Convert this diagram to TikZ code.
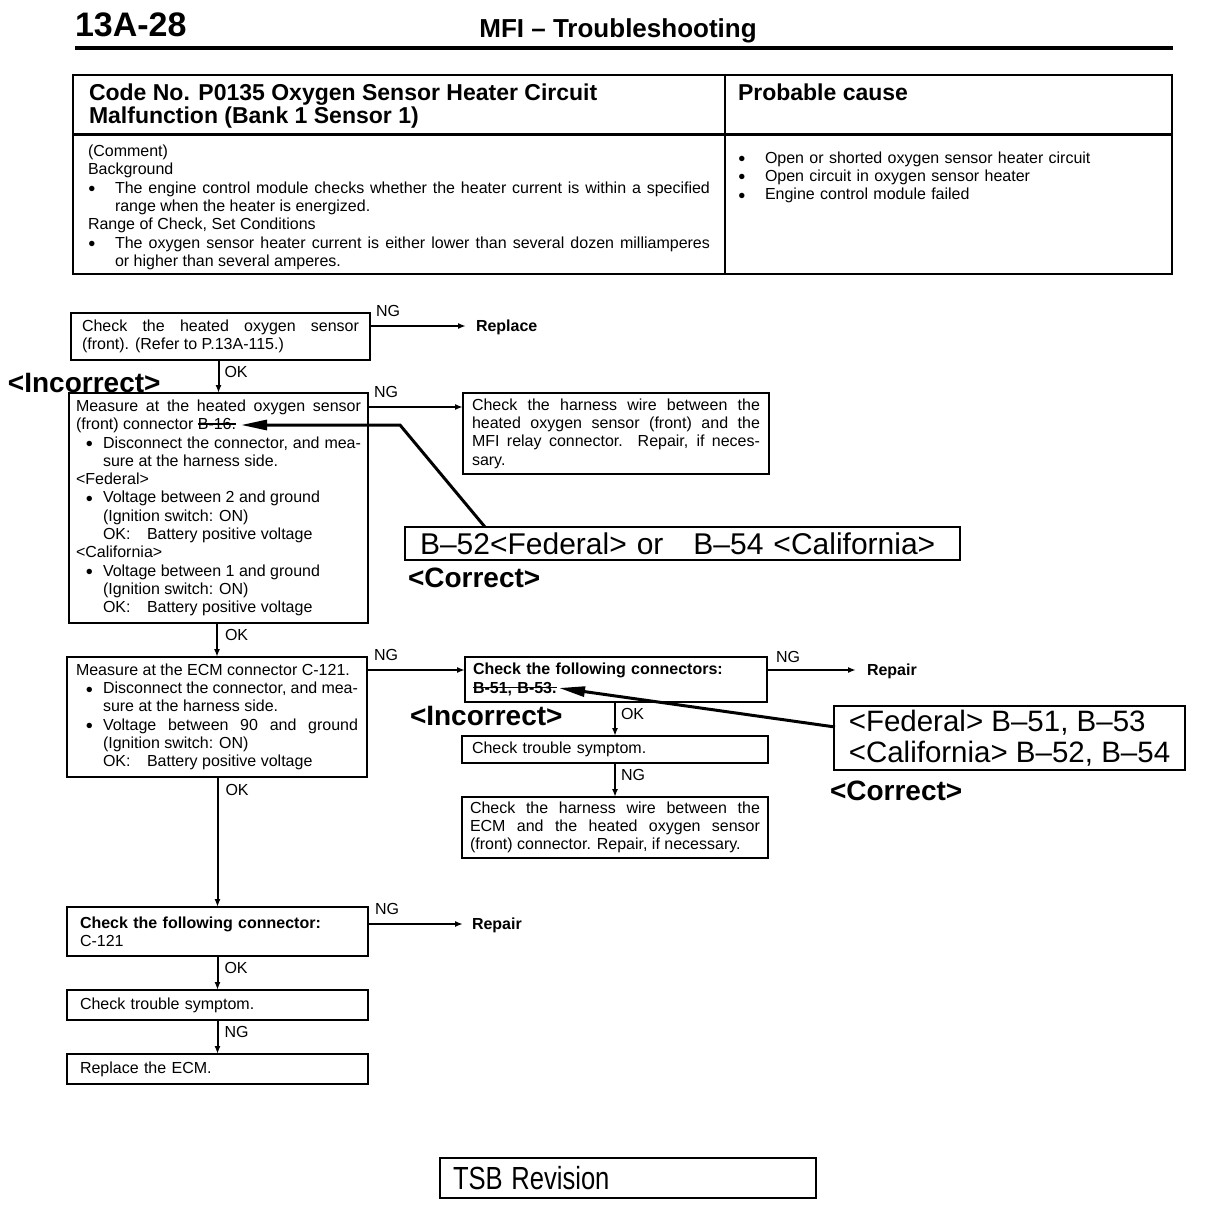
\documentclass[tikz,border=0pt]{standalone}
\usepackage{fontspec}
\setmainfont{Liberation Sans}
\usepackage{graphicx}
\usetikzlibrary{arrows.meta,calc}
\newsavebox\strkbox
\newcommand{\strk}[1]{\leavevmode\sbox\strkbox{#1}\rlap{\rule[0.32em]{\wd\strkbox}{1.3pt}}\usebox\strkbox}
\newcommand{\sm}{\fontsize{16}{18.3}\selectfont\parindent=0pt\parskip=0pt\tolerance=10000\hyphenpenalty=10000}
\newcommand{\bigdot}{\raisebox{0.6pt}{\fontsize{12.5}{12.5}\selectfont ●}}
\newcommand{\bbul}{\par\hangindent=27pt\hangafter=1\noindent\makebox[27pt][c]{\bigdot}}
\newcommand{\hbul}{\par\hangindent=27pt\hangafter=1\noindent\makebox[27pt][l]{\bigdot}}
\newcommand{\okl}{\makebox[44pt][l]{OK:}}
\tikzset{
  every node/.style={inner sep=0pt, outer sep=0pt},
  box/.style={draw, line width=2.6pt, anchor=north west, inner ysep=0pt, font=\sm, align=justify},
  bx/.style n args={4}{minimum width=#1pt, minimum height=#2pt, inner xsep=#3pt, text width=#4pt},
  lbl/.style={font=\sm},
  blbl/.style={font=\sm\bfseries},
  big/.style={font=\fontsize{28}{30}\selectfont\bfseries},
  bigtxt/.style={font=\fontsize{30}{31}\selectfont},
  arr/.style={line width=2pt, -{Latex[length=8pt,width=6pt]}},
  corr/.style={line width=3pt, -{Triangle[length=26pt,width=10pt]}},
  rule/.style={line width=2.6pt}
}
\begin{document}
\begin{tikzpicture}[x=1pt,y=-1pt]
\useasboundingbox[fill=white] (0,0) rectangle (1216,1206);

% page header
\node[anchor=west, font=\fontsize{34}{36}\selectfont\bfseries] (page) at (75,25) {13A-28};
\node[font=\fontsize{26}{28}\selectfont\bfseries] (title) at (618,31) {MFI -- Troubleshooting};
\draw[line width=3.5pt] (75,48) -- (1173,48);

% table
\draw[rule] (73,75) rectangle (1172,274);
\draw[rule] (725,75) -- (725,274);
\draw[line width=3pt] (73,135) -- (1172,135);
\node[anchor=north west, font=\fontsize{23}{23}\selectfont\bfseries, align=left] (code) at (89,84)
  {Code No. P0135 Oxygen Sensor Heater Circuit\\Malfunction (Bank 1 Sensor 1)};
\node[anchor=north west, font=\fontsize{23}{23}\selectfont\bfseries] (cause) at (738,84) {Probable cause};
\node[anchor=north west, font=\sm, text width=622pt, align=justify] (comment) at (88,145)
  {(Comment)\par Background
   \hbul The engine control module checks whether the heater current is within a specified\linebreak range when the heater is energized.
   \par Range of Check, Set Conditions
   \hbul The oxygen sensor heater current is either lower than several dozen milliamperes\linebreak or higher than several amperes.\par};
\node[anchor=north west, font=\sm, text width=422pt, align=left] (causes) at (738,145)
  {\hbul Open or shorted oxygen sensor heater circuit
   \hbul Open circuit in oxygen sensor heater
   \hbul Engine control module failed\par};

% flow boxes
\node[box, bx={299}{47}{11}{277}] (b1) at (71,313)
  {Check the heated oxygen sensor\linebreak (front). (Refer to P.13A-115.)\par};
\node[box, bx={299}{230}{7}{285}] (b2) at (69,393)
  {Measure at the heated oxygen sensor\linebreak (front) connector \strk{B-16.}
   \bbul Disconnect the connector, and mea-\linebreak sure at the harness side.
   \par <Federal>
   \bbul Voltage between 2 and ground\\(Ignition switch: ON)\\\okl Battery positive voltage
   \par <California>
   \bbul Voltage between 1 and ground\\(Ignition switch: ON)\\\okl Battery positive voltage\par};
\node[box, bx={306}{81}{9}{288}] (b3) at (463,393)
  {Check the harness wire between the\linebreak heated oxygen sensor (front) and the\linebreak MFI relay connector. Repair, if neces-\linebreak sary.\par};
\node[box, bx={555}{33}{15}{525}, bigtxt, align=left] (fix1) at (405,527)
  {B--52<Federal> or \ \ B--54 <California>};
\node[box, bx={300}{120}{9}{282}] (b4) at (67,657)
  {Measure at the ECM connector C-121.
   \bbul Disconnect the connector, and mea-\linebreak sure at the harness side.
   \bbul Voltage between 90 and ground\linebreak(Ignition switch: ON)\\\okl Battery positive voltage\par};
\node[box, bx={302}{45}{8}{286}, align=left, font=\sm\bfseries] (b5) at (465,657)
  {Check the following connectors:\\\strk{B-51, B-53.}};
\node[box, bx={306}{27}{10}{286}, align=left] (b6) at (462,736) {Check trouble symptom.};
\node[box, bx={306}{61}{8}{290}] (b7) at (462,797)
  {Check the harness wire between the\linebreak ECM and the heated oxygen sensor\linebreak (front) connector. Repair, if necessary.\par};
\node[draw, line width=2.6pt, anchor=north west, minimum width=351pt, minimum height=64pt, inner xsep=13pt, inner ysep=0pt, font=\fontsize{29.5}{31}\selectfont, align=left] (fix2) at (834,706)
  {<Federal> B--51, B--53\\<California> B--52, B--54};
\node[box, bx={301}{49}{13}{275}, align=left] (b8) at (67,907)
  {\textbf{Check the following connector:}\\C-121};
\node[box, bx={301}{30}{13}{275}, align=left] (b9) at (67,990) {Check trouble symptom.};
\node[box, bx={301}{30}{13}{275}, align=left] (b10) at (67,1054) {Replace the ECM.};
\node[draw, line width=2pt, anchor=north west, minimum width=376pt, minimum height=40pt, inner xsep=13pt, text width=350pt, align=left, font=\fontsize{32}{34}\selectfont] (tsb) at (440,1158)
  {\scalebox{0.8}[1]{TSB Revision}};

% end labels
\node[blbl, anchor=west] (rep1) at (476,327) {Replace};
\node[blbl, anchor=west] (rep2) at (867,671) {Repair};
\node[blbl, anchor=west] (rep3) at (472,925) {Repair};

% correction labels
\node[big, anchor=west] (inc1) at (8,383) {<Incorrect>};
\node[big, anchor=west] (cor1) at (408,578) {<Correct>};
\node[big, anchor=west] (inc2) at (410,716) {<Incorrect>};
\node[big, anchor=west] (cor2) at (830,791) {<Correct>};

% NG branches
\coordinate (s1) at ($(b1.north east)+(0,13)$);
\draw[arr, shorten >=10pt] (s1) -- (s1 -| rep1.west);
\node[lbl, anchor=west] (ng1) at ($(b1.north east)+(6,-2)$) {NG};
\coordinate (s2) at ($(b2.north east)+(0,14)$);
\draw[arr] (s2) -- (s2 -| b3.west);
\node[lbl, anchor=west] (ng2) at ($(b2.north east)+(6,-1)$) {NG};
\coordinate (s3) at ($(b4.north east)+(0,13)$);
\draw[arr] (s3) -- (s3 -| b5.west);
\node[lbl, anchor=west] (ng3) at ($(b4.north east)+(7,-2)$) {NG};
\coordinate (s4) at ($(b5.north east)+(0,13)$);
\draw[arr, shorten >=11pt] (s4) -- (s4 -| rep2.west);
\node[lbl, anchor=west] (ng4) at ($(b5.north east)+(9,0)$) {NG};
\coordinate (s5) at ($(b8.north east)+(0,17)$);
\draw[arr, shorten >=9pt] (s5) -- (s5 -| rep3.west);
\node[lbl, anchor=west] (ng5) at ($(b8.north east)+(7,2)$) {NG};

% OK / NG downward
\draw[arr] (b2.north |- b1.south) -- node[lbl, pos=0.35, anchor=west, xshift=6pt] (ok1) {OK} (b2.north);
\draw[arr] (b4.north |- b2.south) -- node[lbl, pos=0.35, anchor=west, xshift=8pt] (ok2) {OK} (b4.north);
\draw[arr] (b6.north |- b5.south) -- node[lbl, pos=0.35, anchor=west, xshift=6pt] (ok3) {OK} (b6.north);
\draw[arr] (b7.north |- b6.south) -- node[lbl, pos=0.35, anchor=west, xshift=6pt] (ng6) {NG} (b7.north);
\draw[arr] (b8.north |- b4.south) -- node[lbl, pos=0.1, anchor=west, xshift=8pt] (ok4) {OK} (b8.north);
\draw[arr] (b9.north |- b8.south) -- node[lbl, pos=0.35, anchor=west, xshift=7pt] (ok5) {OK} (b9.north);
\draw[arr] (b10.north |- b9.south) -- node[lbl, pos=0.35, anchor=west, xshift=7pt] (ng7) {NG} (b10.north);

% correction arrows
\coordinate (c1) at ($(fix1.north west)+(80,0)$);
\coordinate (k1) at (400,425);
\coordinate (t1) at (241,425);
\draw[corr] (c1) -- (k1) -- (t1);
\coordinate (c2) at ($(fix2.north west)+(1,21)$);
\coordinate (t2) at (559,688);
\draw[corr] (c2) -- (t2);
\end{tikzpicture}
\end{document}
